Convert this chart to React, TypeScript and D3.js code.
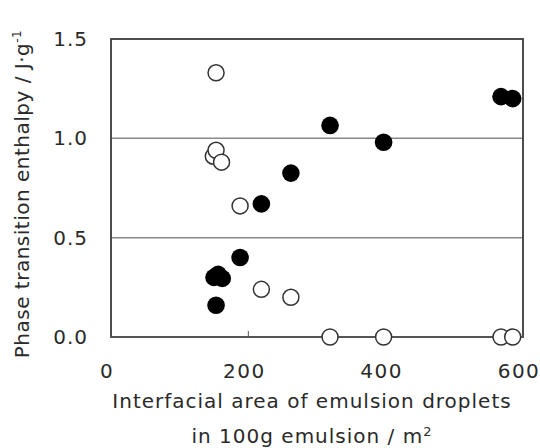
import { useEffect, useRef } from 'react';
import * as d3 from 'd3';

// open circles
const openX = [153, 149, 153, 161, 188, 219, 262, 319, 397, 568, 585];
const openY = [1.33, 0.91, 0.94, 0.88, 0.66, 0.24, 0.2, 0, 0, 0, 0];
// filled circles
const fillX = [319, 397, 262, 219, 188, 150, 156, 162, 153, 568, 585];
const fillY = [1.065, 0.98, 0.825, 0.67, 0.4, 0.3, 0.315, 0.295, 0.16, 1.21, 1.2];

const xTicks = [0, 200, 400, 600];
const yTicks = [0, 0.5, 1.0, 1.5];

const App = () => {
    const svgRef = useRef<SVGSVGElement>(null);

    useEffect(() => {
        const svg = d3.select(svgRef.current);
        svg.selectAll('*').remove();

        const margin = { top: 39, right: 17, bottom: 111, left: 111 };
        const width = 540;
        const height = 448;
        const font = '"DejaVu Sans", Verdana, sans-serif';

        const x = d3.scaleLinear().domain([0, 600]).range([margin.left, width - margin.right]);
        const y = d3.scaleLinear().domain([0, 1.5]).range([height - margin.bottom, margin.top]);

        // gridlines
        svg.append('g')
            .selectAll('line')
            .data([0.5, 1.0])
            .enter()
            .append('line')
            .attr('x1', x(0))
            .attr('x2', x(600))
            .attr('y1', (d) => y(d))
            .attr('y2', (d) => y(d))
            .attr('stroke', '#8a8a8a')
            .attr('stroke-width', 1.5);

        // x ticks (inside)
        svg.append('g')
            .selectAll('line')
            .data(xTicks.slice(1, 3))
            .enter()
            .append('line')
            .attr('x1', (d) => x(d))
            .attr('x2', (d) => x(d))
            .attr('y1', y(0))
            .attr('y2', y(0) - 6)
            .attr('stroke', '#555')
            .attr('stroke-width', 1);

        // frame
        svg.append('rect')
            .attr('x', x(0))
            .attr('y', y(1.5))
            .attr('width', x(600) - x(0))
            .attr('height', y(0) - y(1.5))
            .attr('fill', 'none')
            .attr('stroke', '#3a3a3a')
            .attr('stroke-width', 1.8);

        svg.append('line')
            .attr('x1', x(0))
            .attr('x2', x(600))
            .attr('y1', y(0))
            .attr('y2', y(0))
            .attr('stroke', '#555')
            .attr('stroke-width', 2);

        // tick labels
        svg.append('g')
            .selectAll('text')
            .data(xTicks)
            .enter()
            .append('text')
            .attr('x', (d) => x(d) - 4)
            .attr('y', 378)
            .attr('text-anchor', 'middle')
            .attr('font-family', font)
            .attr('font-size', 20)
            .attr('letter-spacing', 1.5)
            .attr('fill', '#2a2a2a')
            .text((d) => d);

        svg.append('g')
            .selectAll('text')
            .data(yTicks)
            .enter()
            .append('text')
            .attr('x', 88)
            .attr('y', (d) => y(d) + 7)
            .attr('text-anchor', 'end')
            .attr('font-family', font)
            .attr('font-size', 20)
            .attr('letter-spacing', 1)
            .attr('fill', '#2a2a2a')
            .text((d) => d.toFixed(1));

        // points
        svg.append('g')
            .selectAll('circle')
            .data(openX.map((v, i) => [v, openY[i]]))
            .enter()
            .append('circle')
            .attr('cx', (d) => x(d[0]))
            .attr('cy', (d) => y(d[1]))
            .attr('r', 8)
            .attr('fill', '#fff')
            .attr('stroke', '#333')
            .attr('stroke-width', 1.5);

        svg.append('g')
            .selectAll('circle')
            .data(fillX.map((v, i) => [v, fillY[i]]))
            .enter()
            .append('circle')
            .attr('cx', (d) => x(d[0]))
            .attr('cy', (d) => y(d[1]))
            .attr('r', 8.8)
            .attr('fill', '#000');

        // x axis title
        svg.append('text')
            .attr('x', 312)
            .attr('y', 408)
            .attr('text-anchor', 'middle')
            .attr('font-family', font)
            .attr('font-size', 20)
            .attr('letter-spacing', 1)
            .attr('fill', '#2a2a2a')
            .text('Interfacial area of emulsion droplets');

        const t2 = svg.append('text')
            .attr('x', 312)
            .attr('y', 443)
            .attr('text-anchor', 'middle')
            .attr('font-family', font)
            .attr('font-size', 20)
            .attr('letter-spacing', 1)
            .attr('fill', '#2a2a2a');
        t2.append('tspan').text('in 100g emulsion / m');
        t2.append('tspan').attr('font-size', 13).attr('dy', -7).text('2');

        // y axis title
        const yt = svg.append('text')
            .attr('transform', 'translate(29, 194) rotate(-90)')
            .attr('text-anchor', 'middle')
            .attr('font-family', font)
            .attr('font-size', 20)
            .attr('letter-spacing', 0.5)
            .attr('fill', '#2a2a2a');
        yt.append('tspan').text('Phase transition enthalpy / J·g');
        yt.append('tspan').attr('font-size', 12).attr('dy', -8).text('-1');
    }, []);

    return (
        <div>
            <svg ref={svgRef} width={540} height={448} style={{ position: 'absolute', left: 0, top: 0 }}></svg>
        </div>
    );
};

export default App;
